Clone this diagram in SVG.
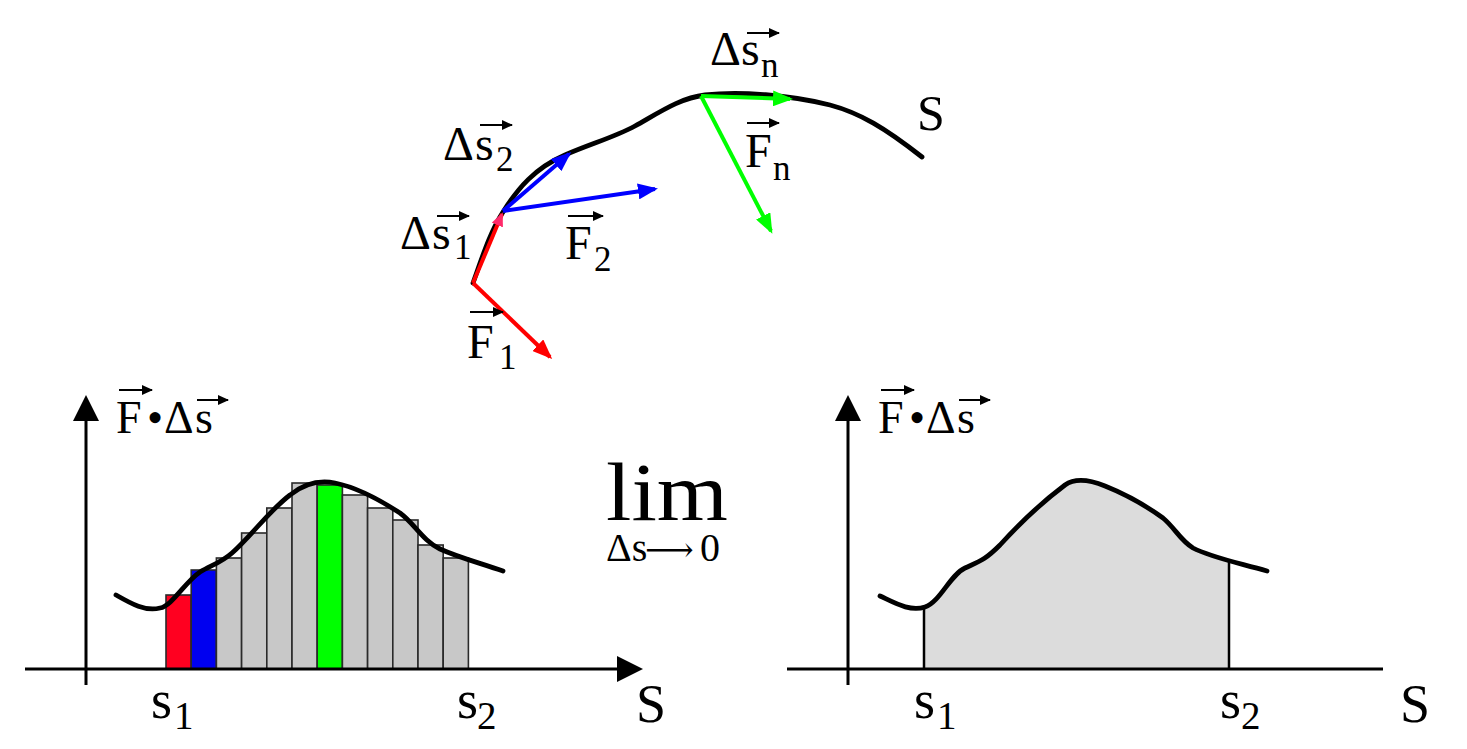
<svg xmlns="http://www.w3.org/2000/svg" width="1467" height="749" viewBox="0 0 1467 749">
<style>
text{font-family:"Liberation Serif","Times New Roman","DejaVu Serif",serif;fill:#000}
.lbl{font-size:48px}
.sub{font-size:35px}
.ax{font-size:46px}
.big{font-size:54px}
.bsub{font-size:39px}
.axis{stroke:#000;stroke-width:3;fill:none}
.curve{stroke:#000;stroke-width:4.8;fill:none;stroke-linecap:round;stroke-linejoin:round}
.bar{stroke:#2a2a2a;stroke-width:1.6}
.gray{fill:#c8c8c8}
.vec{stroke:#000;stroke-width:2;fill:none;marker-end:url(#mv)}
.red{stroke:#ff0000;stroke-width:4;fill:none}
.blue{stroke:#0000ff;stroke-width:4;fill:none}
.green{stroke:#00ff00;stroke-width:4;fill:none}
</style>
<defs>
<marker id="mr" markerUnits="userSpaceOnUse" markerWidth="20" markerHeight="16" viewBox="0 0 20 16" refX="17" refY="8" orient="auto"><path d="M0,0 L20,8 L0,16 Z" fill="#ff0000"/></marker>
<marker id="mp" markerUnits="userSpaceOnUse" markerWidth="14" markerHeight="12" viewBox="0 0 14 12" refX="12" refY="6" orient="auto"><path d="M0,0 L14,6 L0,12 Z" fill="#ff2a6a"/></marker>
<marker id="mb" markerUnits="userSpaceOnUse" markerWidth="20" markerHeight="16" viewBox="0 0 20 16" refX="17" refY="8" orient="auto"><path d="M0,0 L20,8 L0,16 Z" fill="#0000ff"/></marker>
<marker id="mg" markerUnits="userSpaceOnUse" markerWidth="20" markerHeight="16" viewBox="0 0 20 16" refX="17" refY="8" orient="auto"><path d="M0,0 L20,8 L0,16 Z" fill="#00ff00"/></marker>
<marker id="mv" markerUnits="userSpaceOnUse" markerWidth="11" markerHeight="10" viewBox="0 0 11 10" refX="10" refY="5" orient="auto"><path d="M0,0 L11,5 L0,10 Z" fill="#000"/></marker>
<clipPath id="area"><rect x="924" y="400" width="305" height="269"/></clipPath>
</defs>

<g id="path-curve">
<path class="curve" d="M473,283 C482,258 490,232 503,212 C518,188 535,168 565,155 C590,144 615,137 635,126 C660,112 680,98 705,95 C740,91 790,95 830,105 C860,113 885,128 922,157"/>
<text x="917" y="130" font-size="50">S</text>
</g>

<g id="connectors">
<line class="red" x1="473" y1="283" x2="502" y2="214" marker-end="url(#mp)"/>
<line class="red" x1="473" y1="283" x2="550" y2="357" marker-end="url(#mr)"/>
<line class="blue" x1="503" y1="211" x2="569" y2="154" marker-end="url(#mb)"/>
<line class="blue" x1="503" y1="211" x2="655" y2="189" marker-end="url(#mb)"/>
<line class="green" x1="701" y1="96" x2="790" y2="99" marker-end="url(#mg)"/>
<line class="green" x1="701" y1="96" x2="771" y2="231" marker-end="url(#mg)"/>
</g>

<g id="vector-labels">
<text class="lbl" x="710 741" y="65">Δs</text><text class="sub" x="761" y="77">n</text>
<line class="vec" x1="747" y1="33" x2="779" y2="33"/>
<text class="lbl" x="443 475" y="160">Δs</text><text class="sub" x="496" y="171">2</text>
<line class="vec" x1="480" y1="125" x2="512" y2="125"/>
<text class="lbl" x="400 432" y="249">Δs</text><text class="sub" x="454" y="259">1</text>
<line class="vec" x1="437" y1="216" x2="469" y2="216"/>
<text class="lbl" x="565" y="259">F</text><text class="sub" x="594" y="271">2</text>
<line class="vec" x1="568" y1="216" x2="603" y2="216"/>
<text class="lbl" x="745" y="167">F</text><text class="sub" x="773" y="180">n</text>
<line class="vec" x1="747" y1="123" x2="779" y2="123"/>
<text class="lbl" x="467" y="358">F</text><text class="sub" x="499" y="369">1</text>
<line class="vec" x1="470" y1="312" x2="503" y2="312"/>
</g>

<g id="graph-left">
<g id="bars">
<rect class="bar" fill="#ff0020" x="166" y="595" width="25.2" height="74"/>
<rect class="bar" fill="#0000f0" x="191.2" y="570" width="25.2" height="99"/>
<rect class="bar gray" x="216.4" y="558" width="25.2" height="111"/>
<rect class="bar gray" x="241.6" y="533" width="25.2" height="136"/>
<rect class="bar gray" x="266.8" y="508" width="25.2" height="161"/>
<rect class="bar gray" x="292" y="483" width="25.2" height="186"/>
<rect class="bar" fill="#00ff00" x="317.2" y="485" width="25.2" height="184"/>
<rect class="bar gray" x="342.4" y="495" width="25.2" height="174"/>
<rect class="bar gray" x="367.6" y="508" width="25.2" height="161"/>
<rect class="bar gray" x="392.8" y="520" width="25.2" height="149"/>
<rect class="bar gray" x="418" y="545" width="25.2" height="124"/>
<rect class="bar gray" x="443.2" y="558" width="25.2" height="111"/>
</g>
<path class="curve" d="M116,595 C130,603 145,612 160,608 C172,606 185,582 200,572 C212,565 222,562 232,553 C252,535 270,510 290,495 C305,483 320,480 335,483 C355,487 380,500 400,513 C415,524 422,540 440,549 C460,558 480,563 503,571"/>
<line class="axis" x1="86" y1="418" x2="86" y2="685"/>
<polygon points="86,395 73,421 99,421" fill="#000"/>
<line class="axis" x1="25" y1="669" x2="620" y2="669"/>
<polygon points="643,669 617,656 617,682" fill="#000"/>
<text class="ax" x="116 147 164 195" y="433">F•Δs</text>
<line class="vec" x1="119" y1="390" x2="152" y2="390"/>
<line class="vec" x1="197" y1="400" x2="228" y2="400"/>
<text class="big" x="151" y="718">s</text><text class="bsub" x="174" y="729">1</text>
<text class="big" x="457" y="718">s</text><text class="bsub" x="477" y="729">2</text>
<text class="big" x="636" y="722">S</text>
</g>

<g id="limit">
<text x="606" y="520" font-size="82" textLength="122" lengthAdjust="spacingAndGlyphs">lim</text>
<text y="561"><tspan x="606" font-size="40">Δs</tspan><tspan x="645" font-size="34">⟶</tspan><tspan x="700" font-size="40">0</tspan></text>
</g>

<g id="graph-right">
<path d="M880,596 C895,603 910,612 925,607 C940,602 950,575 965,568 C980,561 985,560 1000,545 C1020,523 1045,500 1065,485 C1075,478 1090,480 1105,486 C1125,494 1145,505 1163,518 C1175,528 1180,540 1193,548 C1210,557 1235,562 1267,571 L1267,669 L880,669 Z" fill="#dcdcdc" clip-path="url(#area)"/>
<line x1="924" y1="607" x2="924" y2="669" stroke="#000" stroke-width="2.5"/>
<line x1="1229" y1="559" x2="1229" y2="669" stroke="#000" stroke-width="2.5"/>
<path class="curve" d="M880,596 C895,603 910,612 925,607 C940,602 950,575 965,568 C980,561 985,560 1000,545 C1020,523 1045,500 1065,485 C1075,478 1090,480 1105,486 C1125,494 1145,505 1163,518 C1175,528 1180,540 1193,548 C1210,557 1235,562 1267,571"/>
<line class="axis" x1="848" y1="418" x2="848" y2="685"/>
<polygon points="848,395 835,421 861,421" fill="#000"/>
<line class="axis" x1="787" y1="669" x2="1383" y2="669"/>
<text class="ax" x="878 909 926 957" y="433">F•Δs</text>
<line class="vec" x1="881" y1="390" x2="914" y2="390"/>
<line class="vec" x1="959" y1="400" x2="990" y2="400"/>
<text class="big" x="914" y="718">s</text><text class="bsub" x="937" y="729">1</text>
<text class="big" x="1220" y="718">s</text><text class="bsub" x="1241" y="729">2</text>
<text class="big" x="1400" y="722">S</text>
</g>
</svg>
